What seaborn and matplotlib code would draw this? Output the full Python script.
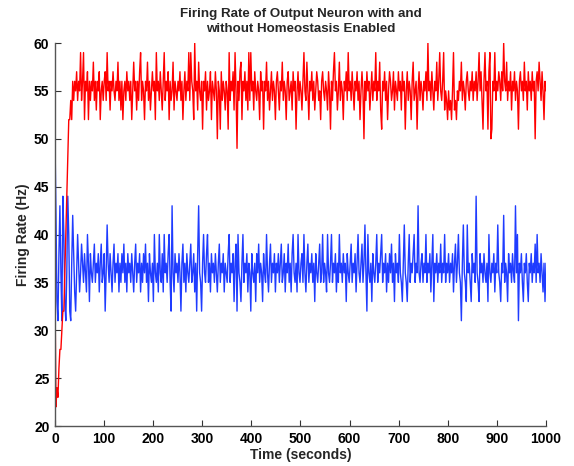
import numpy as np
import pandas as pd
import matplotlib
matplotlib.use("Agg")
import matplotlib.pyplot as plt
import seaborn as sns

# Firing rate with homeostasis disabled (red) and enabled (blue), one sample every ~2 s
rate_no_homeostasis = [
    34, 22, 24, 23, 26, 28, 28, 30, 32, 32, 36, 40, 44, 48, 52, 52, 54, 52, 56, 54, 56, 55, 57, 54, 56,
    55, 59, 54, 56, 59, 52, 56, 55, 57, 52, 56, 54, 56, 55, 58, 54, 56, 53, 56, 55, 57, 52, 55, 56, 54,
    56, 57, 54, 59, 55, 56, 53, 56, 55, 57, 55, 54, 56, 55, 58, 54, 56, 53, 56, 52, 55, 56, 54, 57, 55,
    56, 54, 56, 52, 55, 58, 55, 56, 53, 56, 54, 57, 59, 54, 56, 55, 52, 56, 55, 58, 54, 56, 53, 55, 57,
    55, 56, 52, 59, 55, 56, 54, 57, 55, 53, 56, 59, 54, 56, 55, 57, 52, 56, 54, 55, 58, 53, 56, 55, 54,
    56, 55, 57, 54, 56, 52, 55, 57, 54, 56, 55, 59, 54, 59, 56, 55, 52, 60, 55, 56, 53, 58, 55, 54, 56,
    51, 56, 55, 57, 53, 56, 54, 55, 57, 52, 56, 55, 54, 57, 55, 50, 56, 55, 51, 57, 54, 56, 55, 53, 56,
    55, 51, 59, 54, 56, 55, 57, 53, 59, 55, 49, 56, 54, 57, 58, 52, 56, 55, 57, 54, 56, 53, 59, 54, 59,
    55, 56, 53, 57, 55, 54, 56, 55, 52, 57, 55, 56, 51, 56, 55, 58, 54, 56, 53, 55, 57, 54, 56, 55, 52,
    56, 57, 55, 53, 56, 55, 58, 54, 56, 55, 52, 56, 57, 54, 55, 56, 53, 57, 55, 56, 51, 55, 57, 54, 56,
    55, 53, 56, 59, 55, 54, 58, 55, 52, 56, 55, 57, 54, 56, 53, 55, 57, 56, 54, 55, 52, 56, 57, 55, 54,
    56, 55, 53, 57, 55, 51, 56, 54, 57, 59, 55, 56, 53, 55, 58, 54, 56, 55, 52, 56, 55, 57, 54, 59, 55,
    56, 54, 57, 55, 53, 56, 55, 57, 54, 56, 52, 55, 57, 55, 50, 56, 54, 57, 55, 56, 53, 55, 57, 54, 56,
    55, 59, 54, 56, 55, 58, 53, 51, 56, 55, 57, 54, 56, 52, 55, 57, 56, 54, 55, 57, 53, 56, 55, 54, 57,
    55, 56, 53, 57, 55, 56, 51, 55, 57, 54, 56, 55, 52, 56, 58, 54, 55, 56, 51, 55, 57, 54, 56, 55, 53,
    56, 55, 57, 54, 60, 55, 56, 54, 57, 55, 53, 56, 55, 58, 54, 56, 59, 55, 54, 56, 59, 53, 55, 54, 52,
    55, 53, 54, 52, 55, 59, 53, 54, 52, 55, 54, 56, 55, 58, 54, 56, 55, 53, 56, 57, 55, 54, 56, 55, 57,
    54, 56, 55, 57, 54, 56, 59, 55, 57, 54, 51, 56, 59, 55, 56, 51, 57, 59, 50, 51, 56, 55, 59, 54, 56,
    55, 57, 56, 54, 57, 55, 60, 56, 55, 58, 54, 56, 55, 57, 53, 56, 55, 57, 54, 56, 55, 51, 56, 57, 55,
    56, 54, 58, 55, 56, 53, 57, 55, 56, 54, 57, 55, 56, 50, 56, 57, 55, 58, 56, 54, 57, 55, 52, 56, 55,
]

rate_homeostasis = [
    50, 42, 33, 31, 38, 43, 36, 31, 44, 40, 33, 31, 36, 44, 40, 32, 31, 37, 42, 38, 34, 32, 36, 40, 37,
    34, 36, 39, 37, 35, 38, 36, 34, 40, 37, 33, 38, 36, 35, 37, 39, 35, 37, 36, 38, 34, 37, 39, 35, 36,
    38, 32, 36, 41, 37, 35, 38, 36, 34, 37, 39, 35, 37, 36, 38, 34, 37, 35, 38, 36, 39, 35, 37, 34, 38,
    36, 37, 35, 38, 36, 34, 37, 39, 35, 37, 36, 38, 34, 37, 35, 38, 36, 39, 35, 37, 33, 38, 36, 35, 37,
    33, 40, 36, 35, 37, 34, 40, 36, 35, 38, 34, 40, 36, 37, 35, 38, 40, 35, 32, 43, 36, 34, 38, 36, 37,
    35, 38, 36, 32, 37, 39, 35, 37, 34, 38, 36, 35, 37, 39, 35, 36, 38, 34, 37, 32, 38, 43, 36, 35, 32,
    37, 40, 36, 35, 38, 40, 35, 37, 34, 38, 36, 37, 35, 38, 36, 34, 37, 39, 35, 37, 36, 38, 34, 37, 36,
    35, 38, 40, 35, 37, 36, 38, 33, 37, 39, 32, 40, 36, 35, 33, 37, 40, 35, 37, 36, 38, 34, 37, 36, 32,
    38, 36, 35, 37, 33, 38, 36, 39, 35, 37, 36, 33, 38, 36, 35, 40, 36, 34, 37, 39, 35, 37, 36, 38, 34,
    37, 36, 38, 35, 37, 39, 35, 36, 38, 34, 37, 36, 39, 35, 37, 34, 38, 40, 36, 35, 37, 34, 40, 36, 35,
    37, 38, 35, 40, 36, 34, 37, 39, 35, 37, 36, 38, 35, 37, 33, 38, 36, 35, 37, 39, 35, 36, 40, 35, 37,
    36, 34, 40, 36, 35, 37, 40, 35, 37, 36, 38, 34, 37, 35, 40, 36, 37, 35, 38, 36, 37, 33, 38, 36, 35,
    37, 39, 35, 37, 36, 38, 34, 37, 40, 36, 35, 37, 39, 35, 37, 41, 36, 32, 40, 36, 35, 37, 33, 38, 36,
    35, 37, 40, 35, 37, 36, 38, 40, 35, 37, 36, 38, 34, 37, 35, 38, 36, 39, 35, 37, 33, 38, 36, 37, 35,
    40, 36, 35, 33, 37, 41, 36, 35, 33, 37, 40, 35, 37, 36, 38, 40, 35, 37, 36, 43, 36, 35, 37, 38, 35,
    37, 36, 40, 35, 37, 36, 38, 34, 37, 40, 33, 37, 36, 38, 35, 37, 36, 39, 35, 37, 36, 40, 35, 37, 36,
    38, 35, 37, 36, 38, 34, 37, 39, 35, 37, 40, 36, 35, 31, 37, 41, 36, 35, 33, 41, 36, 37, 35, 33, 38,
    36, 37, 35, 44, 36, 35, 33, 38, 36, 37, 35, 38, 36, 35, 37, 33, 40, 36, 35, 37, 36, 38, 34, 37, 36,
    41, 36, 35, 33, 37, 36, 42, 35, 37, 36, 33, 38, 36, 37, 35, 38, 36, 35, 43, 36, 40, 31, 37, 36, 38,
    35, 33, 37, 36, 38, 35, 33, 37, 36, 38, 35, 37, 36, 39, 35, 40, 36, 37, 35, 38, 36, 34, 37, 33, 37,
]

x_ticks = [0, 100, 200, 300, 400, 500, 600, 700, 800, 900, 1000]
y_ticks = [20, 25, 30, 35, 40, 45, 50, 55, 60]

time_s = np.linspace(0, 1000, len(rate_no_homeostasis))
df_red = pd.DataFrame({"Time": time_s, "Rate": rate_no_homeostasis})
df_blue = pd.DataFrame({"Time": time_s, "Rate": rate_homeostasis})

sns.set_style("ticks")
plt.rcParams["font.family"] = ["Liberation Sans", "DejaVu Sans"]
plt.rcParams["xtick.direction"] = "in"
plt.rcParams["ytick.direction"] = "in"

fig = plt.figure(figsize=(5.74, 4.66), dpi=100)
ax = fig.add_axes([0.0958, 0.0858, 0.8554, 0.8219])

sns.lineplot(data=df_blue, x="Time", y="Rate", ax=ax, color="#1f3cff",
             linewidth=1.0, estimator=None, legend=False)
sns.lineplot(data=df_red, x="Time", y="Rate", ax=ax, color="#ff0000",
             linewidth=1.0, estimator=None, legend=False)

ax.set_xlim(0, 1000)
ax.set_ylim(20, 60)
ax.set_xticks(x_ticks)
ax.set_yticks(y_ticks)
ax.tick_params(axis="both", labelsize=10, length=4, width=0.8, color="#333333",
               pad=4, labelcolor="black")
for lab in ax.get_xticklabels() + ax.get_yticklabels():
    lab.set_fontweight("bold")
for side in ["top", "right"]:
    ax.spines[side].set_visible(False)
for side in ["left", "bottom"]:
    ax.spines[side].set_color("#555555")
    ax.spines[side].set_linewidth(1.0)

ax.set_xlabel("Time (seconds)", fontsize=10, fontweight="bold", labelpad=2)
ax.set_ylabel("Firing Rate (Hz)", fontsize=10, fontweight="bold", labelpad=3)
ax.set_title("Firing Rate of Output Neuron with and\nwithout Homeostasis Enabled",
             fontsize=9.6, fontweight="bold", pad=8, linespacing=1.3)

fig.savefig("out.png", dpi=100)
